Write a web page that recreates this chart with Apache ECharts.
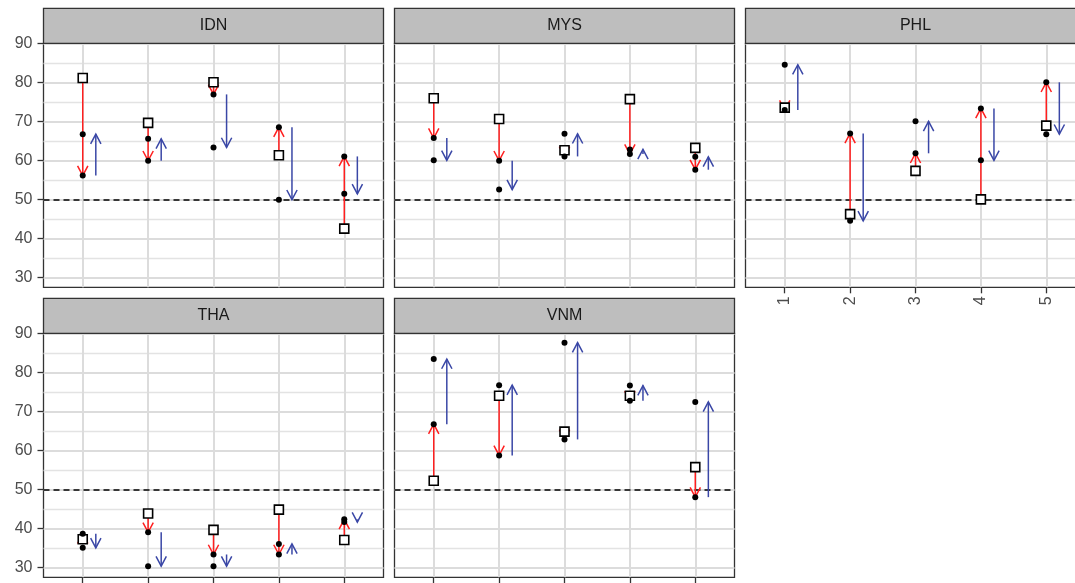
<!DOCTYPE html>
<html>
<head>
<meta charset="utf-8">
<script src="https://cdn.jsdelivr.net/npm/echarts@6/dist/echarts.min.js"></script>
<style>
  html, body { margin: 0; padding: 0; background: #ffffff; }
  #chart { width: 1075px; height: 583px; }
</style>
</head>
<body>
<div id="chart"></div>
<script>
// Wave categories on the x axis and tick values of the y axis
const categories = [1, 2, 3, 4, 5];
const yTicks = [30, 40, 50, 60, 70, 80, 90];
const yMinorTicks = [35, 45, 55, 65, 75, 85];

// Per country: start value (open square), middle value, end value
const idnStart = [81.1, 69.6, 80.0, 61.3, 42.5];
const idnMid   = [56.1, 59.9, 76.9, 68.5, 61.0];
const idnEnd   = [66.7, 65.5, 63.3, 49.9, 51.4];

const mysStart = [75.9, 70.6, 62.6, 75.7, 63.2];
const mysMid   = [65.7, 59.9, 61.0, 61.6, 57.6];
const mysEnd   = [60.0, 52.5, 66.8, 62.8, 60.9];

const phlStart = [73.5, 46.2, 57.3, 50.0, 68.9];
const phlMid   = [72.9, 66.9, 61.8, 73.3, 80.0];
const phlEnd   = [84.5, 44.5, 70.0, 60.0, 66.7];

const thaStart = [37.2, 43.8, 39.6, 44.8, 37.0];
const thaMid   = [38.6, 39.0, 33.3, 33.3, 42.3];
const thaEnd   = [35.0, 30.3, 30.3, 36.0, 41.6];

const vnmStart = [52.2, 74.0, 64.8, 74.0, 55.7];
const vnmMid   = [66.7, 58.7, 62.8, 72.7, 48.0];
const vnmEnd   = [83.4, 76.7, 87.6, 76.6, 72.4];

const referenceLine = 50;

const panels = [
  { name: 'IDN', start: idnStart, mid: idnMid, end: idnEnd },
  { name: 'MYS', start: mysStart, mid: mysMid, end: mysEnd },
  { name: 'PHL', start: phlStart, mid: phlMid, end: phlEnd },
  { name: 'THA', start: thaStart, mid: thaMid, end: thaEnd },
  { name: 'VNM', start: vnmStart, mid: vnmMid, end: vnmEnd }
];

// Facet layout
const colLeft = [43.5, 394.5, 745.5];
const rowTop = [43.3, 333.3];
const panelW = 340;
const panelH = 244;
const stripH = 35;
const X_MIN = 0.4, X_MAX = 5.6;
const Y_MIN = 27.45, Y_MAX = 90;
const DODGE = 0.2;
const RED = '#ff1f1f';
const BLUE = '#3a47a6';
const FONT = 'Liberation Sans, Arial, sans-serif';

function arrowItem(color, dx) {
  return function (params, api) {
    const x = api.value(0) + dx;
    const p0 = api.coord([x, api.value(1)]);
    const p1 = api.coord([x, api.value(2)]);
    const ang = Math.atan2(p1[1] - p0[1], p1[0] - p0[0]);
    const L = 11, half = 28 * Math.PI / 180;
    const w1 = [p1[0] - L * Math.cos(ang - half), p1[1] - L * Math.sin(ang - half)];
    const w2 = [p1[0] - L * Math.cos(ang + half), p1[1] - L * Math.sin(ang + half)];
    return {
      type: 'group',
      children: [
        { type: 'line', shape: { x1: p0[0], y1: p0[1], x2: p1[0], y2: p1[1] },
          style: { stroke: color, lineWidth: 1.5 } },
        { type: 'polyline', shape: { points: [w1, p1, w2] },
          style: { stroke: color, fill: null, lineWidth: 1.5 } }
      ]
    };
  };
}

const grids = [], xAxes = [], yAxes = [], series = [], graphics = [];

panels.forEach((p, i) => {
  const col = i < 3 ? i : i - 3;
  const row = i < 3 ? 0 : 1;
  const left = colLeft[col], top = rowTop[row];
  const hasXTicks = (row === 1) || (col === 2);
  const hasXLabels = (col === 2);
  const hasYLabels = (col === 0);

  grids.push({
    left: left, top: top, width: panelW, height: panelH,
    show: true, borderColor: '#333333', borderWidth: 1.3, backgroundColor: '#ffffff',
    containLabel: false, outerBoundsMode: 'none'
  });

  xAxes.push({
    type: 'value', gridIndex: i, min: X_MIN, max: X_MAX,
    axisLine: { show: false },
    axisTick: { show: hasXTicks, customValues: categories, length: 6,
                lineStyle: { color: '#333333', width: 1.3 } },
    axisLabel: { show: hasXLabels, customValues: categories, rotate: 90, margin: 9,
                 fontSize: 16, fontFamily: FONT, color: '#4d4d4d' },
    splitLine: { show: true, lineStyle: { color: '#dcdcdc', width: 2 } }
  });

  yAxes.push({
    type: 'value', gridIndex: i, min: Y_MIN, max: Y_MAX,
    axisLine: { show: false },
    axisTick: { show: hasYLabels, customValues: yTicks, length: 6,
                lineStyle: { color: '#333333', width: 1.3 } },
    axisLabel: { show: hasYLabels, customValues: yTicks, margin: 11,
                 fontSize: 16, fontFamily: FONT, color: '#4d4d4d' },
    splitLine: { show: true, lineStyle: { color: '#dcdcdc', width: 2 } }
  });
  yAxes.push({
    type: 'value', gridIndex: i, min: Y_MIN, max: Y_MAX, position: 'left',
    axisLine: { show: false },
    axisTick: { show: false, customValues: yMinorTicks },
    axisLabel: { show: false, customValues: yMinorTicks },
    splitLine: { show: true, lineStyle: { color: '#e3e3e3', width: 1.4 } }
  });

  const yIdx = 2 * i;
  series.push({
    type: 'custom', name: p.name + ' start to middle',
    xAxisIndex: i, yAxisIndex: yIdx, z: 3,
    encode: { x: 0, y: [1, 2] },
    data: categories.map((c, k) => [c, p.start[k], p.mid[k]]),
    renderItem: arrowItem(RED, 0)
  });
  series.push({
    type: 'custom', name: p.name + ' middle to end',
    xAxisIndex: i, yAxisIndex: yIdx, z: 3,
    encode: { x: 0, y: [1, 2] },
    data: categories.map((c, k) => [c, p.mid[k], p.end[k]]),
    renderItem: arrowItem(BLUE, DODGE)
  });
  series.push({
    type: 'scatter', name: p.name + ' start',
    xAxisIndex: i, yAxisIndex: yIdx, z: 4,
    symbol: 'rect', symbolSize: 9,
    itemStyle: { color: '#ffffff', borderColor: '#000000', borderWidth: 1.6, opacity: 1 },
    data: categories.map((c, k) => [c, p.start[k]])
  });
  series.push({
    type: 'scatter', name: p.name + ' points',
    xAxisIndex: i, yAxisIndex: yIdx, z: 5,
    symbol: 'circle', symbolSize: 6,
    itemStyle: { color: '#000000', opacity: 1 },
    data: categories.map((c, k) => [c, p.mid[k]])
      .concat(categories.map((c, k) => [c, p.end[k]])),
    markLine: {
      silent: true, symbol: ['none', 'none'], label: { show: false },
      lineStyle: { color: '#000000', type: [6, 4], width: 1.5 },
      data: [{ yAxis: referenceLine }],
      z: 2
    }
  });

  graphics.push({
    type: 'rect',
    shape: { x: left, y: top - stripH, width: panelW, height: stripH },
    style: { fill: '#bebebe', stroke: '#333333', lineWidth: 1.3 },
    z: 10
  });
  graphics.push({
    type: 'text',
    x: left + panelW / 2, y: top - stripH / 2,
    style: { text: p.name, fontSize: 16, fontFamily: FONT, fill: '#1a1a1a',
             align: 'center', verticalAlign: 'middle' },
    z: 11
  });
});

const chart = echarts.init(document.getElementById('chart'), null, { renderer: 'canvas' });
chart.setOption({
  animation: false,
  backgroundColor: '#ffffff',
  grid: grids,
  xAxis: xAxes,
  yAxis: yAxes,
  series: series,
  graphic: { elements: graphics }
});
</script>
</body>
</html>
